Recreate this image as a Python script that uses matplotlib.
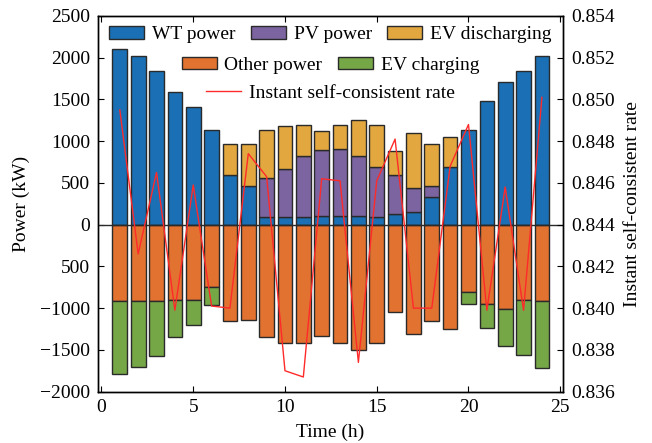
import numpy as np
import matplotlib.pyplot as plt
from matplotlib.patches import Patch
from matplotlib.lines import Line2D

plt.rcParams['font.family'] = 'Liberation Serif'
plt.rcParams['font.size'] = 14

hours = np.arange(1, 25)

wt_power = [2100, 2020, 1840, 1590, 1410, 1135, 600, 465, 95, 96, 96, 104,
            104, 104, 92, 128, 152, 335, 692, 1128, 1476, 1708, 1843, 2023]
pv_power = [0, 0, 0, 0, 0, 0, 0, 0, 460, 576, 728, 796,
            801, 716, 597, 468, 288, 127, 0, 0, 0, 0, 0, 0]
ev_discharging = [0, 0, 0, 0, 0, 0, 364, 499, 579, 504, 364, 216,
                  291, 433, 507, 288, 652, 506, 360, 0, 0, 0, 0, 0]
other_power = [-920, -910, -912, -906, -907, -744, -1152, -1140, -1344, -1412, -1420, -1328,
               -1416, -1504, -1416, -1044, -1308, -1152, -1244, -808, -952, -1012, -906, -916]
ev_charging = [-872, -790, -656, -434, -297, -216, 0, 0, 0, 0, 0, 0,
               0, 0, 0, 0, 0, 0, 0, -148, -288, -436, -650, -804]
self_rate = [0.8495, 0.8426, 0.8465, 0.8399, 0.8459, 0.8401, 0.8400, 0.8474,
             0.8463, 0.8370, 0.8367, 0.8462, 0.8461, 0.8374, 0.8461, 0.8481,
             0.8400, 0.8400, 0.8468, 0.8488, 0.8399, 0.8458, 0.8399, 0.8501]

c_wt = '#1b6fb5'
c_pv = '#7b64a0'
c_evd = '#e2a73e'
c_other = '#e27230'
c_evc = '#76a746'
c_line = '#ff2a2a'
edge = '#2a2a2a'

fig = plt.figure(figsize=(6.52, 4.43), dpi=100)
ax = fig.add_axes([0.150, 0.116, 0.7135, 0.848])

w = 0.8
wt = np.array(wt_power)
pv = np.array(pv_power)
evd = np.array(ev_discharging)
oth = np.array(other_power)
evc = np.array(ev_charging)

bar_kw = dict(width=w, edgecolor=edge, linewidth=1.0)
ax.bar(hours, wt, color=c_wt, **bar_kw)
ax.bar(hours[pv > 0], pv[pv > 0], bottom=wt[pv > 0], color=c_pv, **bar_kw)
m = evd > 0
ax.bar(hours[m], evd[m], bottom=(wt + pv)[m], color=c_evd, **bar_kw)
ax.bar(hours, oth, color=c_other, **bar_kw)
m = evc < 0
ax.bar(hours[m], evc[m], bottom=oth[m], color=c_evc, **bar_kw)
ax.axhline(0, color=edge, linewidth=1.0, zorder=3)

ax.set_xlim(-0.2, 25.15)
ax.set_ylim(-2000, 2500)
ax.set_xticks(np.arange(0, 26, 5))
yt = np.arange(-2000, 2501, 500)
ax.set_yticks(yt)
labels = []
for v in yt:
    if v == -500:
        labels.append('500')   # the original figure shows it without the minus
    elif v < 0:
        labels.append('\u2212' + str(-v))
    else:
        labels.append(str(v))
ax.set_yticklabels(labels)
ax.set_xlabel('Time (h)', labelpad=5)
ax.set_ylabel('Power (kW)', labelpad=7)
ax.tick_params(direction='in', length=4, width=0.8, top=True, pad=5.5)

ax2 = ax.twinx()
ax2.plot(hours, self_rate, color=c_line, linewidth=1.0)
ax2.set_ylim(0.836, 0.854)
rt = np.arange(0.836, 0.8541, 0.002)
ax2.set_yticks(rt)
ax2.set_yticklabels(['%.3f' % v for v in rt])
ax2.tick_params(direction='in', length=4, width=0.8, pad=6)
ax2.set_ylabel('Instant self-consistent rate', labelpad=6)

for a in (ax, ax2):
    for s in a.spines.values():
        s.set_linewidth(1.0)

leg_kw = dict(frameon=False, loc='center', handlelength=1.8, handleheight=0.65,
              handletextpad=0.4, columnspacing=0.8, borderpad=0, borderaxespad=0)

h1 = [Patch(facecolor=c_wt, edgecolor=edge), Patch(facecolor=c_pv, edgecolor=edge),
      Patch(facecolor=c_evd, edgecolor=edge)]
l1 = ax2.legend(h1, ['WT power', 'PV power', 'EV discharging'], ncol=3,
                bbox_to_anchor=(0.5, 0.950), **leg_kw)
ax2.add_artist(l1)
h2 = [Patch(facecolor=c_other, edgecolor=edge), Patch(facecolor=c_evc, edgecolor=edge)]
l2 = ax2.legend(h2, ['Other power', 'EV charging'], ncol=2,
                bbox_to_anchor=(0.5, 0.869), **leg_kw)
ax2.add_artist(l2)
h3 = [Line2D([0], [0], color=c_line, linewidth=1.0)]
ax2.legend(h3, ['Instant self-consistent rate'], bbox_to_anchor=(0.5, 0.795), **leg_kw)

fig.savefig('out.png', dpi=100)
